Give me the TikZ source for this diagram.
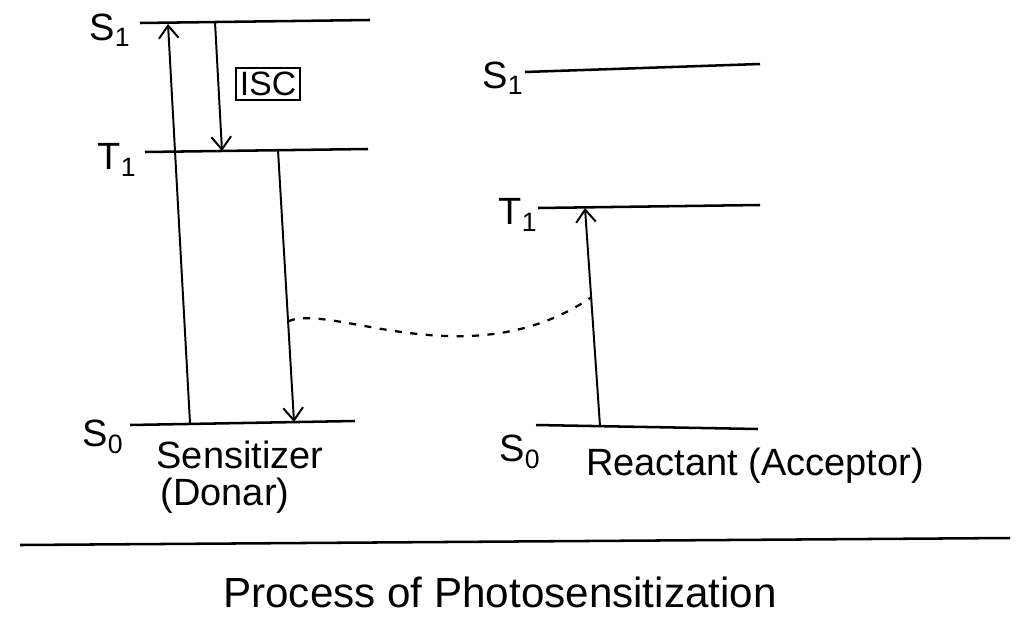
\documentclass[tikz,border=0pt]{standalone}
\usepackage{fontspec}
\setmainfont{Liberation Sans}
\usetikzlibrary{arrows.meta}
\begin{document}
\begin{tikzpicture}[x=0.025cm,y=-0.025cm,
  level/.style={line width=1.8pt},
  trans/.style={line width=1.4pt,-{Straight Barb[length=9pt,width=14pt,line width=1.4pt]}},
  lbl/.style={font=\fontsize{27}{29}\selectfont, inner sep=0pt},
  txt/.style={font=\fontsize{27}{29}\selectfont, inner sep=0pt},
  iscbox/.style={draw, line width=1.4pt, font=\fontsize{24}{26}\selectfont, inner sep=3pt},
  transfer/.style={line width=1.6pt, dash pattern=on 5pt off 6pt}]
\useasboundingbox (0,0) rectangle (1017,618);
% ---- left (sensitizer) levels
\coordinate (LS1a) at (140,23);  \coordinate (LS1b) at (370,20);
\coordinate (LT1a) at (145,152); \coordinate (LT1b) at (368,149);
\coordinate (LS0a) at (130,425); \coordinate (LS0b) at (355,421);
\draw[level] (LS1a) -- (LS1b);
\draw[level] (LT1a) -- (LT1b);
\draw[level] (LS0a) -- (LS0b);
\node[lbl] (lS1) at (110,30) {S\textsubscript{1}};
\node[lbl] (lT1) at (117,160) {T\textsubscript{1}};
\node[lbl] (lS0) at (103,437) {S\textsubscript{0}};
% transitions
\coordinate (absB) at (190,423); \coordinate (absT) at (168,24);
\draw[trans] (absB) -- (absT);
\coordinate (iscT) at (215,22); \coordinate (iscB) at (222,151);
\draw[trans] (iscT) -- (iscB);
\node[iscbox] (isc) at (268,84) {ISC};
\coordinate (phT) at (278,150); \coordinate (phB) at (294,422);
\draw[trans] (phT) -- (phB);
\node[txt] (sens) at (240,455) {Sensitizer};
\node[txt] (donar) at (225,496) {(Donar)};
% ---- right (reactant) levels
\coordinate (RS1a) at (525,72);  \coordinate (RS1b) at (760,64);
\coordinate (RT1a) at (538,208); \coordinate (RT1b) at (760,205);
\coordinate (RS0a) at (536,425); \coordinate (RS0b) at (758,429);
\draw[level] (RS1a) -- (RS1b);
\draw[level] (RT1a) -- (RT1b);
\draw[level] (RS0a) -- (RS0b);
\node[lbl] (rS1) at (503,78) {S\textsubscript{1}};
\node[lbl] (rT1) at (518,215) {T\textsubscript{1}};
\node[lbl] (rS0) at (520,452) {S\textsubscript{0}};
\coordinate (raB) at (600,426); \coordinate (raT) at (585,208);
\draw[trans] (raB) -- (raT);
\node[txt] (react) at (755,466) {Reactant (Acceptor)};
% ---- energy transfer
\path (phT) -- (phB) coordinate[pos=0.63] (d1);
\path (raB) -- (raT) coordinate[pos=0.59] (d2);
\draw[transfer] (d1) .. controls (330,302) and (470,380) .. (d2);
% ---- caption
\coordinate (capL) at (20,545); \coordinate (capR) at (1010,538);
\draw[level] (capL) -- (capR);
\node[font=\fontsize{30}{32}\selectfont, inner sep=0pt] (title) at (500,592) {Process of Photosensitization};
\end{tikzpicture}
\end{document}
